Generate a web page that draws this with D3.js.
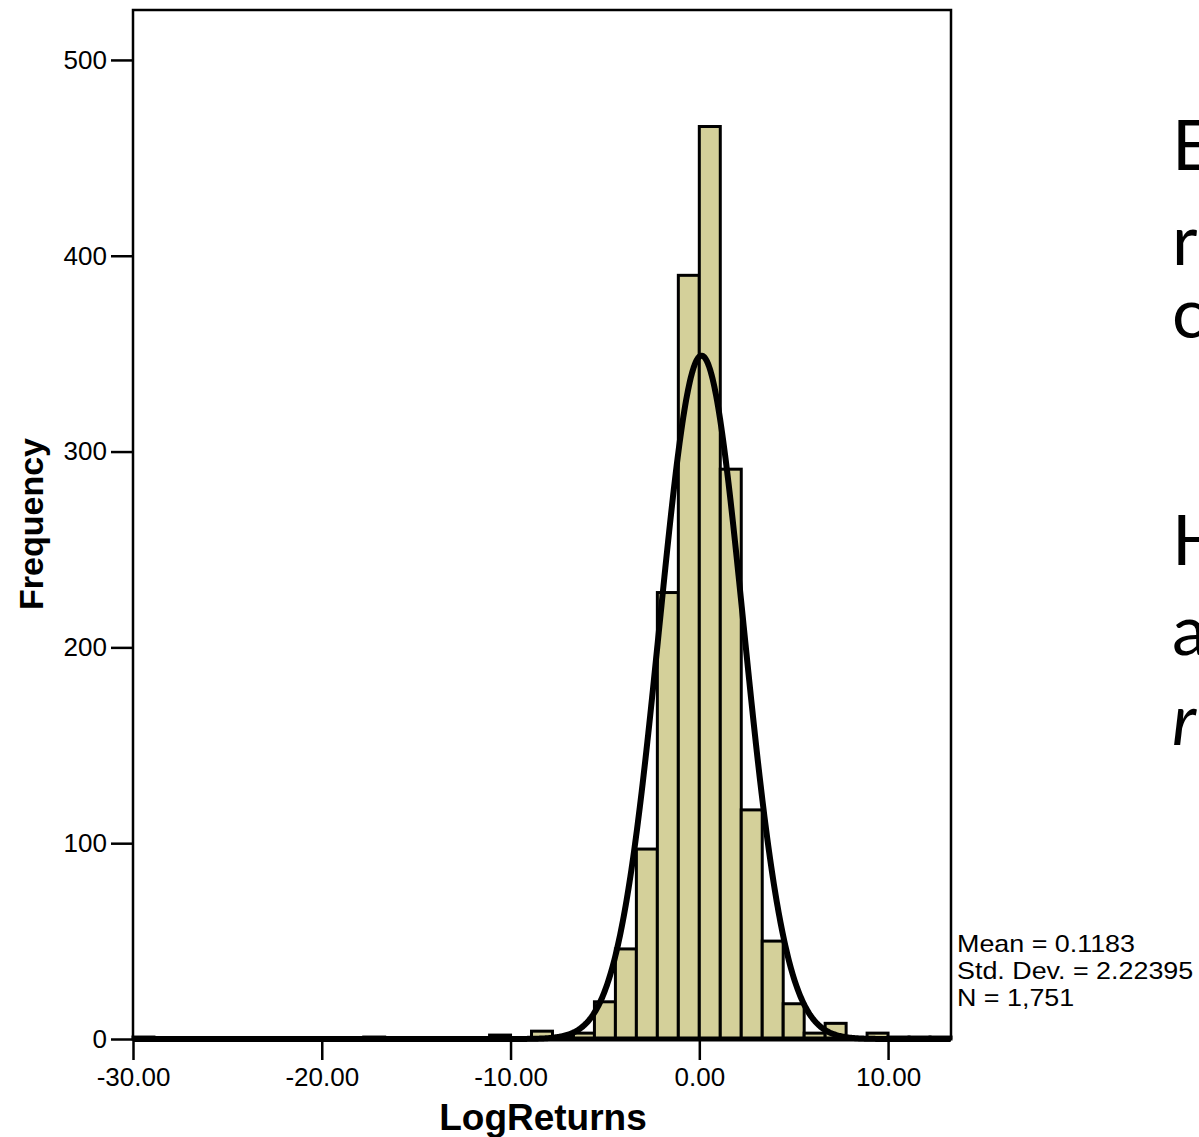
<!DOCTYPE html>
<html>
<head>
<meta charset="utf-8">
<script src="https://cdn.jsdelivr.net/npm/d3@7/dist/d3.min.js"></script>
<style>
  html, body { margin: 0; padding: 0; background: #fff; overflow: hidden; }
  svg { display: block; }
</style>
</head>
<body>
<svg id="chart" width="1199" height="1137"></svg>
<script>
// ---- Data ----
const binStart = -30;
const binWidth = 10 / 9;
const counts = [1, 0, 0, 0, 0, 0, 0, 0, 0, 0, 0, 1, 0, 0, 0, 0, 0, 2, 0, 4, 1, 3, 19, 46, 97, 228, 390, 466, 291, 117, 50, 18, 3, 8, 0, 3, 1, 1, 1];
const xTicks = [-30, -20, -10, 0, 10];
const yTicks = [0, 100, 200, 300, 400, 500];
const statsLines = ["Mean = 0.1183", "Std. Dev. = 2.22395", "N = 1,751"];
const stats = { mean: 0.1183, sd: 2.22395, n: 1751 };
const sideBlock1 = ["E", "r", "c"];
const sideBlock2 = ["H", "a", "r"];

// ---- Layout ----
const svg = d3.select("#chart");
const L = 133, T = 10, R = 951, B = 1039;
const ff = "Liberation Sans, Arial, sans-serif";

const x = d3.scaleLinear().domain([-30, binStart + binWidth * counts.length]).range([L, R]);
const y = d3.scaleLinear().domain([0, 525.5]).range([B, T]);

const bins = counts.map((c, i) => ({ x0: binStart + i * binWidth, x1: binStart + (i + 1) * binWidth, c }));

// Bars
svg.append("g").selectAll("rect")
  .data(bins.filter(d => d.c > 0))
  .join("rect")
  .attr("x", d => x(d.x0))
  .attr("y", d => y(d.c))
  .attr("width", d => x(d.x1) - x(d.x0))
  .attr("height", d => y(0) - y(d.c))
  .attr("fill", "#d4d09a")
  .attr("stroke", "#000")
  .attr("stroke-width", 3);

// Normal curve from the displayed statistics
const pdf = v => stats.n * binWidth / (stats.sd * Math.sqrt(2 * Math.PI)) * Math.exp(-0.5 * ((v - stats.mean) / stats.sd) ** 2);
const xs = d3.range(x.domain()[0], x.domain()[1] + 0.001, 0.05);
svg.append("path")
  .datum(xs)
  .attr("d", d3.line().x(v => x(v)).y(v => y(pdf(v))))
  .attr("fill", "none")
  .attr("stroke", "#000")
  .attr("stroke-width", 6)
  .attr("stroke-linejoin", "round");

// Frame
svg.append("path")
  .attr("d", `M${L},${B} L${L},${T} L${R},${T} L${R},${B}`)
  .attr("fill", "none").attr("stroke", "#000").attr("stroke-width", 2.5);

// X axis
const fmt2 = d3.format(".2f");
const xAxis = d3.axisBottom(x).tickValues(xTicks).tickSize(21).tickPadding(8)
  .tickFormat(d => fmt2(d).replace("\u2212", "-"));
const gx = svg.append("g").attr("transform", `translate(0,${B})`).call(xAxis);
gx.select(".domain").attr("stroke-width", 5).attr("d", `M${L},0H${R}`);
gx.selectAll(".tick line").attr("stroke-width", 2.5);
gx.selectAll(".tick text").attr("font-family", ff).attr("font-size", 26).attr("fill", "#000");

// Y axis
const yAxis = d3.axisLeft(y).tickValues(yTicks).tickSize(22).tickPadding(4);
const gy = svg.append("g").attr("transform", `translate(${L},0)`).call(yAxis);
gy.select(".domain").remove();
gy.selectAll(".tick line").attr("stroke-width", 2.5);
gy.selectAll(".tick text").attr("font-family", ff).attr("font-size", 26).attr("fill", "#000");

// Axis titles
svg.append("text").attr("x", 543).attr("y", 1130).attr("text-anchor", "middle")
  .attr("font-family", ff).attr("font-weight", "bold").attr("font-size", 37)
  .text("LogReturns");
svg.append("text").attr("transform", "translate(43,524) rotate(-90)").attr("text-anchor", "middle")
  .attr("font-family", ff).attr("font-weight", "bold").attr("font-size", 34)
  .text("Frequency");

// Stats
svg.append("g").attr("transform", "translate(957,0) scale(1.12,1)")
  .selectAll("text").data(statsLines).join("text")
  .attr("x", 0).attr("y", (d, i) => 952 + i * 27)
  .attr("font-family", ff).attr("font-size", 24).attr("fill", "#000")
  .text(d => d);

// Side text (cropped slide text)
const sideFont = "Lato, 'Open Sans', sans-serif";
const side1Y = [170, 265, 338];
const side2Y = [565, 655, 745];
svg.append("g").selectAll("text").data(sideBlock1).join("text")
  .attr("x", 1172).attr("y", (d, i) => side1Y[i])
  .attr("font-family", sideFont).attr("font-size", 70).attr("fill", "#000")
  .text(d => d);
svg.append("g").selectAll("text").data(sideBlock2).join("text")
  .attr("x", 1172).attr("y", (d, i) => side2Y[i])
  .attr("font-family", sideFont).attr("font-size", 70).attr("fill", "#000")
  .attr("font-style", (d, i) => i === 2 ? "italic" : "normal")
  .text(d => d);
</script>
</body>
</html>
